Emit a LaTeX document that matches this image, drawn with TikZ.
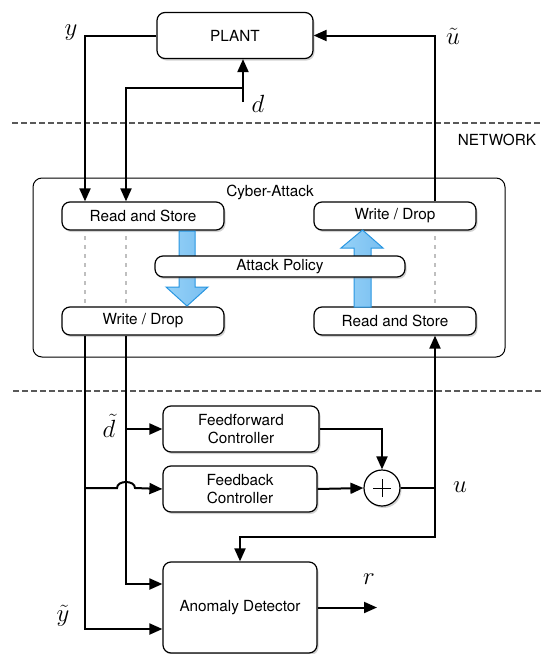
\documentclass[tikz,border=0pt]{standalone}
\usepackage{fontspec}
\setmainfont{TeX Gyre Heros}
\usetikzlibrary{arrows.meta,shadows}
\definecolor{bluefill}{RGB}{120,190,240}
\definecolor{bluedark}{RGB}{40,150,225}
\definecolor{bluelight}{RGB}{150,210,248}
\begin{document}
\begin{tikzpicture}[x=1pt,y=-1pt,
  every node/.style={font=\fontsize{15.3}{18}\selectfont},
  blk/.style={draw, line width=1.2pt, rounded corners=8pt, fill=white, inner sep=0pt,
     drop shadow={shadow xshift=1.5pt, shadow yshift=-2pt, opacity=0.35}},
  conn/.style={line width=2pt, -{Triangle[length=13pt,width=11pt]}},
  wire/.style={line width=2pt},
  netline/.style={line width=1.2pt, draw=black!65, dash pattern=on 5.5pt off 3.5pt},
  dotline/.style={line width=1.6pt, draw=black!25, dash pattern=on 4pt off 5pt},
  bluearrow/.style={left color=bluelight, right color=bluefill, draw=bluedark, line width=1pt},
  mlab/.style={font=\fontsize{26}{26}\selectfont}
]
\useasboundingbox (0,0) rectangle (543,654);

% network separators
\draw[netline] (12,123) -- (543,123);
\draw[netline] (13,391) -- (543,391);
\node[anchor=center] (net) at (497,140) {NETWORK};

% cyber-attack container
\draw[line width=1pt, rounded corners=9pt] (33,178) rectangle (505,357);
\node (ca) at (270,192) {Cyber-Attack};

% nodes
\node[blk, minimum width=156pt, minimum height=46pt] (plant) at (235,35.5) {PLANT};
\node[blk, minimum width=162pt, minimum height=28pt] (rs1) at (143,216) {Read and Store};
\node[blk, minimum width=162pt, minimum height=28pt] (wd1) at (395,216) {Write / Drop};
\node[blk, minimum width=162pt, minimum height=28pt] (wd2) at (143,321) {Write / Drop};
\node[blk, minimum width=162pt, minimum height=28pt] (rs2) at (395,321) {Read and Store};

% blue arrows (behind attack policy)
\draw[bluearrow] (179,231) -- (195,231) -- (195,287) -- (208,287) -- (187,306) -- (166,287) -- (179,287) -- cycle;
\draw[bluearrow] (354,307) -- (371,307) -- (371,248) -- (383,248) -- (362.5,230) -- (341,248) -- (354,248) -- cycle;

\node[blk, minimum width=250pt, minimum height=21pt] (ap) at (280,266.5) {Attack Policy};

% dotted pass-through lines
\draw[dotline] (85,236) -- (85,305);
\draw[dotline] (126,236) -- (126,305);
\draw[dotline] (435,236) -- (435,305);

% controller side
\node[blk, minimum width=156pt, minimum height=46pt, align=center] (ff) at (241,429) {Feedforward\\Controller};
\node[blk, minimum width=154pt, minimum height=46pt, align=center] (fb) at (240,489) {Feedback\\Controller};
\node[draw, circle, line width=1.2pt, fill=white, minimum size=36pt, inner sep=0pt,
      drop shadow={shadow xshift=1.5pt, shadow yshift=-2pt, opacity=0.35}] (sum) at (382,488) {};
\draw[line width=1pt] ([xshift=-9pt]sum.center) -- ([xshift=9pt]sum.center);
\draw[line width=1pt] ([yshift=-9pt]sum.center) -- ([yshift=9pt]sum.center);
\node[blk, minimum width=154pt, minimum height=91pt] (ad) at (240,607.5) {Anomaly Detector};

% coordinates
\coordinate (yc) at (85,35.5);
\coordinate (dsrc) at (243,102);
\coordinate (dj) at (243,88);
\coordinate (dc) at (126,88);
\coordinate (uc) at (435,35.5);
\coordinate (ybot) at (85,629);
\coordinate (dbot) at (126,584);
\coordinate (dff) at (126,429);
\coordinate (yfb) at (85,488);
\coordinate (uj) at (435,488);
\coordinate (ul) at (435,537);
\coordinate (rend) at (377,607.5);

% plant side wires
\draw[conn] (plant.west) -- (yc) -- (yc |- rs1.north);
\draw[conn] (dsrc) -- (dsrc |- plant.south);
\draw[conn] (dj) -- (dc) -- (dc |- rs1.north);
\draw[conn] (uc |- wd1.north) -- (uc) -- (plant.east);

% controller side wires
\draw[conn] (yc |- wd2.south) -- (ybot) -- (ybot -| ad.west);
\draw[conn] (dc |- wd2.south) -- (dbot) -- (dbot -| ad.west);
\draw[conn] (dff) -- (dff -| ff.west);
\draw[conn] (yfb) -- (117,488) .. controls (117,480) and (135,480) .. (135,488) -- (fb.west);
\draw[conn] (ff.east) -| (sum.north);
\draw[conn] (fb.east) -- (sum.west);
\draw[conn] (sum.east) -- (uj) -- (uj |- rs2.south);
\draw[conn] (uj) -- (ul) -| (ad.north);
\draw[conn] (ad.east) -- (rend);

% math labels
\node[mlab] (ly) at (71,33) {$y$};
\node[mlab] (ld) at (258,104) {$d$};
\node[mlab] (lut) at (453,36) {$\tilde{u}$};
\node[mlab] (ldt) at (109,426) {$\tilde{d}$};
\node[mlab] (lyt) at (63,616) {$\tilde{y}$};
\node[mlab] (lu) at (460,487) {$u$};
\node[mlab] (lr) at (369,579) {$r$};
\end{tikzpicture}
\end{document}
